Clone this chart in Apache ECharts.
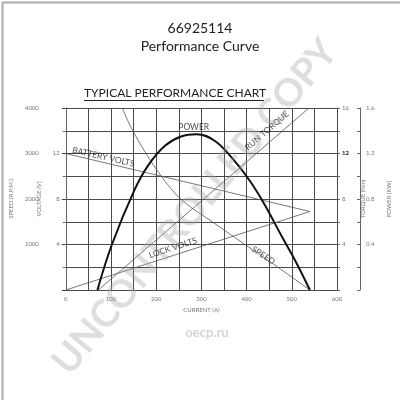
<!DOCTYPE html>
<html><head><meta charset="utf-8">
<script src="https://cdn.jsdelivr.net/npm/echarts@6/dist/echarts.min.js"></script>
<style>html,body{margin:0;padding:0;background:#fff}#c{width:400px;height:400px}</style>
</head><body><div id="c"></div>
<script>
// Current (A) ticks
var currentTicks = [0, 100, 200, 300, 400, 500, 600];
// Power curve (current A, power kW)
var powerCurrent = [70, 102, 152, 183, 220, 255, 290, 330, 370, 407, 440, 478, 510, 540];
var powerKW      = [0, 0.40, 0.88, 1.10, 1.27, 1.35, 1.37, 1.31, 1.15, 0.96, 0.75, 0.47, 0.24, 0];
// Speed curve (current A, rpm)
var speedCurrent = [125, 140, 160, 180, 200, 225, 250, 275, 300, 350, 400, 450, 540];
var speedRPM     = [4000, 3660, 3290, 2960, 2660, 2320, 2040, 1830, 1660, 1320, 975, 635, 0];
// Run torque (current A, Nm)
var torqueCurrent = [72, 538];
var torqueNm      = [0, 16];
// Battery volts and lock volts (current A, V)
var batteryCurrent = [0, 540];
var batteryVolts   = [12, 6.9];
var lockCurrent    = [0, 540];
var lockVolts      = [0, 6.9];

function pairs(xs, ys){ return xs.map(function(x,i){return [x, ys[i]];}); }

var font = 'Lato, "Open Sans", sans-serif';
var gridColor = '#4a4a4a';
var lblColor = '#777';

var chart = echarts.init(document.getElementById('c'), null, {renderer:'canvas'});
var option = {
  animation: false,
  backgroundColor: '#fff',
  textStyle: {fontFamily: font},
  title: [
    {text: '66925114', left: 'center', top: 16, textStyle: {fontSize: 14, fontWeight: 'normal', color: '#222', fontFamily: font}},
    {text: 'Performance Curve', left: 'center', top: 34, textStyle: {fontSize: 14, fontWeight: 'normal', color: '#222', fontFamily: font}},
    {text: 'TYPICAL PERFORMANCE CHART', left: 84, top: 87, padding: 0, textStyle: {fontSize: 12, fontWeight: 'normal', color: '#222', fontFamily: font}}
  ],
  grid: {left: 63, right: 61, top: 108, bottom: 110, containLabel: false},
  xAxis: {
    type: 'value', min: 0, max: 600, interval: 50,
    name: 'CURRENT (A)', nameLocation: 'middle', nameGap: 17,
    nameTextStyle: {fontSize: 6, color: lblColor},
    axisLine: {show: true, lineStyle: {color: gridColor, width: 1}},
    axisTick: {show: false},
    axisLabel: {fontSize: 6, color: lblColor, margin: 6,
      formatter: function(v){ return currentTicks.indexOf(v) >= 0 ? String(v) : ''; }},
    splitLine: {show: true, lineStyle: {color: gridColor, width: 1}}
  },
  yAxis: [
    { // speed
      type: 'value', position: 'left', offset: 21, min: 0, max: 4000, interval: 500,
      name: 'SPEED (R.P.M.)', nameLocation: 'middle', nameGap: 23,
      nameTextStyle: {fontSize: 6, color: lblColor},
      axisLine: {show: true, lineStyle: {color: '#666', width: 1}},
      axisTick: {show: true, length: 3, lineStyle: {color: '#666'}},
      axisLabel: {fontSize: 6, color: lblColor, margin: 6,
        formatter: function(v){ return (v % 1000 === 0 && v > 0) ? String(v) : ''; }},
      splitLine: {show: true, lineStyle: {color: gridColor, width: 1}}
    },
    { // voltage
      type: 'value', position: 'left', offset: 0, min: 0, max: 16, interval: 4,
      name: 'VOLTAGE (V)', nameLocation: 'middle', nameGap: 14,
      nameTextStyle: {fontSize: 6, color: lblColor},
      axisLine: {show: false},
      axisTick: {show: true, length: 4, lineStyle: {color: '#444'}},
      axisLabel: {fontSize: 6, color: lblColor, margin: 6,
        formatter: function(v){ return (v > 0 && v < 16) ? String(v) : ''; }},
      splitLine: {show: false}
    },
    { // torque
      type: 'value', position: 'right', offset: 0, min: 0, max: 16, interval: 2,
      name: 'TORQUE (Nm)', nameLocation: 'middle', nameGap: 17,
      nameTextStyle: {fontSize: 6, color: lblColor},
      axisLine: {show: true, lineStyle: {color: gridColor, width: 1}},
      axisTick: {show: true, length: 3, lineStyle: {color: '#666'}},
      axisLabel: {fontSize: 6, color: lblColor, margin: 5,
        formatter: function(v){ if (v === 12) return '{b|12}'; return (v % 4 === 0 && v > 0) ? String(v) : ''; },
        rich: {b: {fontSize: 6, fontWeight: 'bold', color: '#222'}}},
      splitLine: {show: false}
    },
    { // power
      type: 'value', position: 'right', offset: 23, min: 0, max: 1.6, interval: 0.2,
      name: 'POWER (KW)', nameLocation: 'middle', nameGap: 26,
      nameTextStyle: {fontSize: 6, color: lblColor},
      axisLine: {show: true, lineStyle: {color: '#666', width: 1}},
      axisTick: {show: true, inside: true, length: 3, lineStyle: {color: '#666'}},
      axisLabel: {fontSize: 6, color: lblColor, margin: 6,
        formatter: function(v){ var k = Math.round(v * 10); return (k > 0 && k % 4 === 0) ? (k / 10).toFixed(1) : ''; }},
      splitLine: {show: false}
    }
  ],
  series: [
    {type: 'line', name: 'Battery Volts', yAxisIndex: 1, data: pairs(batteryCurrent, batteryVolts), showSymbol: false,
     lineStyle: {color: '#555', width: 0.8}},
    {type: 'line', name: 'Lock Volts', yAxisIndex: 1, data: pairs(lockCurrent, lockVolts), showSymbol: false,
     lineStyle: {color: '#555', width: 0.8}},
    {type: 'line', name: 'Run Torque', yAxisIndex: 2, data: pairs(torqueCurrent, torqueNm), showSymbol: false,
     lineStyle: {color: '#555', width: 0.8}},
    {type: 'line', name: 'Speed', yAxisIndex: 0, data: pairs(speedCurrent, speedRPM), showSymbol: false, smooth: 0.3,
     lineStyle: {color: '#555', width: 0.8}},
    {type: 'line', name: 'Power', yAxisIndex: 3, data: pairs(powerCurrent, powerKW), showSymbol: false, smooth: 0.4,
     lineStyle: {color: '#111', width: 2}},
    // curve labels
    {type: 'scatter', yAxisIndex: 3, symbolSize: 0, silent: true,
     data: [{value: [283, 1.43], label: {show: true, position: 'inside', formatter: 'POWER', rotate: 0}}],
     label: {fontSize: 8.5, color: '#222', fontFamily: font}},
    {type: 'scatter', yAxisIndex: 1, symbolSize: 0, silent: true,
     data: [
       {value: [83, 11.7], label: {show: true, position: 'inside', formatter: 'BATTERY VOLTS', rotate: -13}},
       {value: [237, 3.7], label: {show: true, position: 'inside', formatter: 'LOCK VOLTS', rotate: 18}}
     ],
     label: {fontSize: 8.5, color: '#222', fontFamily: font}},
    {type: 'scatter', yAxisIndex: 2, symbolSize: 0, silent: true,
     data: [{value: [445, 14.0], label: {show: true, position: 'inside', formatter: 'RUN TORQUE', rotate: 41}}],
     label: {fontSize: 8.5, color: '#222', fontFamily: font}},
    {type: 'scatter', yAxisIndex: 0, symbolSize: 0, silent: true,
     data: [{value: [437, 760], label: {show: true, position: 'inside', formatter: 'SPEED', rotate: -34}}],
     label: {fontSize: 8.5, color: '#222', fontFamily: font}}
  ],
  graphic: [
    {type: 'rect', left: 0, top: 0, z: 100, shape: {x: 0.5, y: 0.5, width: 399, height: 399},
     style: {fill: 'none', stroke: '#aaa', lineWidth: 2}, silent: true},
    {type: 'line', z: 100, shape: {x1: 84, y1: 100.5, x2: 264, y2: 100.5}, style: {stroke: '#222', lineWidth: 1}},
    {type: 'text', z: 100, x: 195, y: 207, rotation: 50.3 * Math.PI / 180, silent: true,
     style: {text: 'UNCONTROLLED COPY', fill: 'rgba(160,160,160,0.35)', font: 'bold 38px ' + font,
             textAlign: 'center', textVerticalAlign: 'middle'}},
    {type: 'text', z: 100, x: 207, y: 333, silent: true,
     style: {text: 'oecp.ru', fill: 'rgba(170,170,170,0.5)', font: 'bold 13px ' + font,
             textAlign: 'center', textVerticalAlign: 'middle'}}
  ]
};
chart.setOption(option);
</script>
</body></html>
